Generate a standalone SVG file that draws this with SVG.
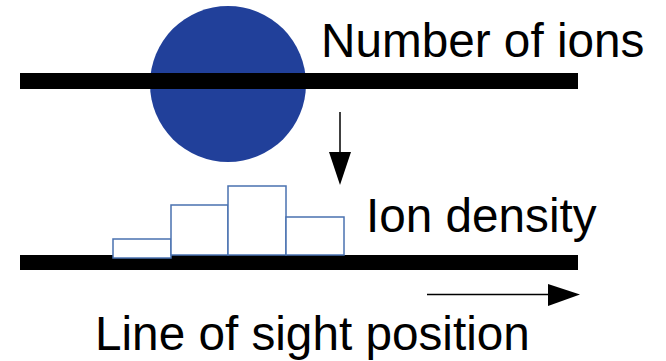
<svg xmlns="http://www.w3.org/2000/svg" width="666" height="361" viewBox="0 0 666 361">
  <defs>
    <style>
      .t { font-family: "Liberation Sans", Arial, sans-serif; font-size: 47.7px; fill: #000; }
      .bar { fill: #000; }
      .bin { fill: #fff; stroke: #4a72b0; stroke-width: 1.5; }
      .conn { stroke: #000; stroke-width: 1.5; fill: none; }
    </style>
  </defs>
  <rect width="666" height="361" fill="#fff"/>
  <g id="ion">
    <circle cx="228" cy="84" r="78" fill="#21409a"/>
  </g>
  <g id="top-line">
    <rect class="bar" x="20" y="73" width="558" height="16"/>
  </g>
  <g id="bottom-line">
    <rect class="bar" x="20" y="255" width="558" height="15"/>
  </g>
  <g id="histogram">
    <rect class="bin" x="113" y="239" width="58" height="19"/>
    <rect class="bin" x="171" y="205" width="57" height="50"/>
    <rect class="bin" x="228" y="186" width="58" height="69"/>
    <rect class="bin" x="286" y="217" width="58" height="38"/>
  </g>
  <g id="connectors">
    <line class="conn" x1="340" y1="112" x2="340" y2="156"/>
    <path d="M329,152 L351,152 L340,185 Z" fill="#000"/>
    <line class="conn" x1="427" y1="294.5" x2="550" y2="294.5"/>
    <path d="M548,284 L580,294.5 L548,306 Z" fill="#000"/>
  </g>
  <g id="labels">
    <text class="t" x="321" y="57">Number of ions</text>
    <text class="t" x="366" y="232">Ion density</text>
    <text class="t" x="95" y="350">Line of sight position</text>
  </g>
</svg>
